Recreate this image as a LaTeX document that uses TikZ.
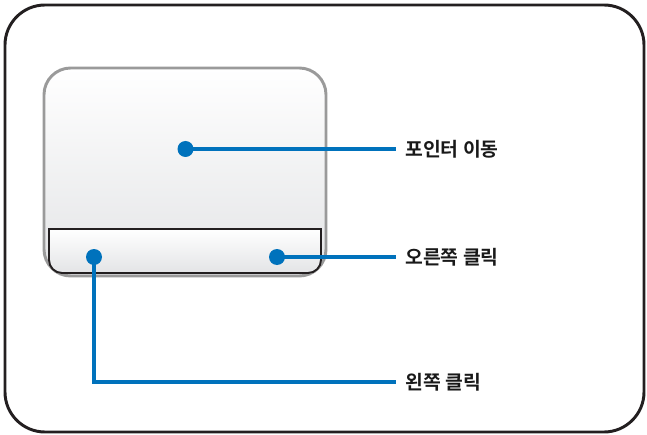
\documentclass[tikz,border=0pt]{standalone}
\usepackage{fontspec}
\newfontfamily\kr{Noto Sans CJK KR Bold}
\definecolor{callout}{HTML}{0072BC}
\definecolor{frame}{HTML}{231F20}
\definecolor{padedge}{HTML}{9A9A9A}
\definecolor{padlow}{HTML}{E3E4E6}
\begin{document}
\begin{tikzpicture}[x=0.75pt,y=-0.75pt,
  dot/.style={circle,fill=callout,inner sep=0pt,minimum size=12pt},
  lead/.style={draw=callout,line width=2.3pt},
  lbl/.style={anchor=west,inner sep=0pt,font=\kr\fontsize{14.5}{16}\selectfont,text=black!90}]
\useasboundingbox (0,0) rectangle (647,435);
% outer frame
\draw[frame,line width=2.2pt,rounded corners=30] (5,5) rectangle (644,432);
% touch pad
\draw[padedge,line width=2.2pt,rounded corners=20,top color=white,bottom color=padlow] (44,68) rectangle (326,276);
% button area
\draw[frame,line width=1.4pt,top color=white,bottom color=padlow]
  (49,229) -- (321,229) -- (321,260) arc[start angle=0,end angle=90,radius=13] -- (62,273)
  arc[start angle=90,end angle=180,radius=13] -- cycle;
% dots
\node[dot] (p) at (185.5,149) {};
\node[dot] (l) at (94,257) {};
\node[dot] (r) at (277,257) {};
% labels
\node[lbl] (tp) at (405,149) {포인터 이동};
\node[lbl] (tr) at (405,257) {오른쪽 클릭};
\node[lbl] (tl) at (405,382) {왼쪽 클릭};
\coordinate (pe) at (396,149);
\coordinate (re) at (396,257);
\coordinate (le) at (396,382);
\draw[lead] (p.center) -- (pe);
\draw[lead] (r.center) -- (re);
\draw[lead] (l.center) |- (le);
\end{tikzpicture}
\end{document}
